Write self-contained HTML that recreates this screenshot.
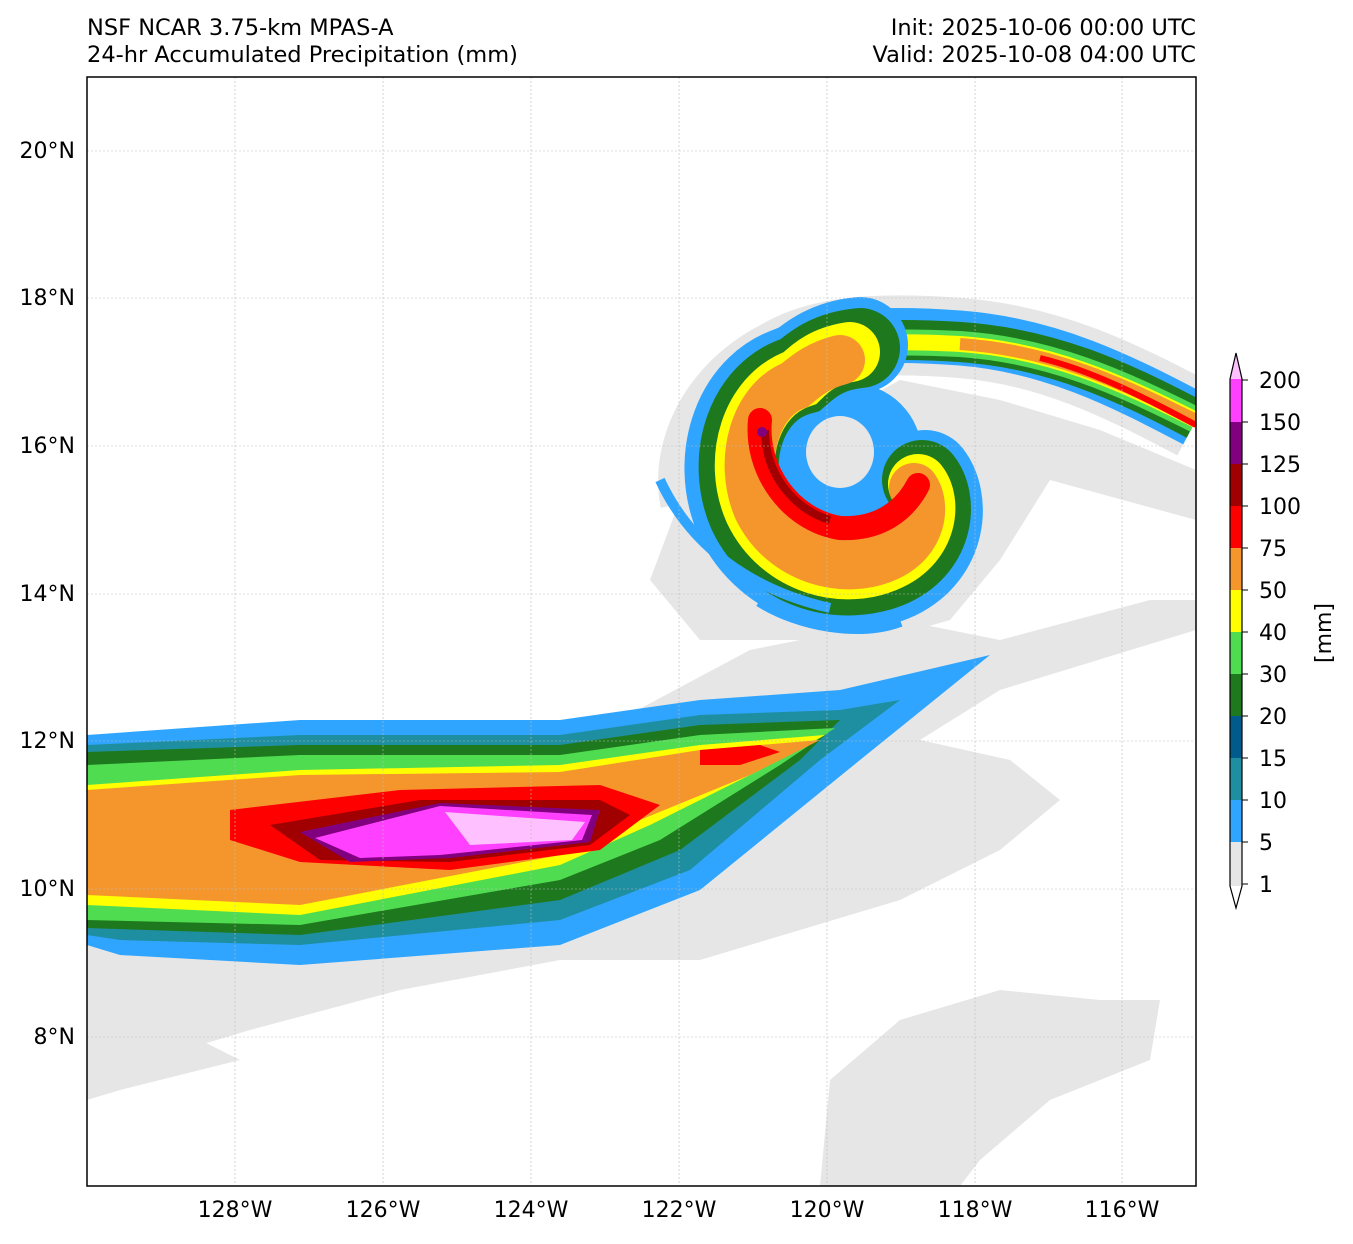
<!DOCTYPE html>
<html><head><meta charset="utf-8"><style>
body{margin:0;background:#fff}
svg text{font-family:"DejaVu Sans","Liberation Sans",sans-serif;fill:#000}
</style></head><body>
<svg width="1353" height="1239" xmlns="http://www.w3.org/2000/svg">
<defs><clipPath id="c"><rect x="87" y="77" width="1109" height="1109"/></clipPath></defs>
<rect width="1353" height="1239" fill="#fff"/>
<g clip-path="url(#c)">
<g fill="#e6e6e6">
<path d="M87,760 L200,735 L600,730 L750,650 L900,620 L1000,640 L1150,600 L1196,600 L1196,630 L1000,690 L920,740 L1010,760 L1060,800 L1000,850 L900,900 L800,930 L700,960 L560,960 L400,990 L250,1030 L150,1060 L87,1070 Z"/>
<path d="M820,1186 L830,1080 L900,1020 L1000,990 L1100,1000 L1160,1000 L1150,1060 L1050,1100 L980,1160 L960,1186 Z"/>
<path d="M87,1070 L200,1040 L240,1060 L120,1090 L87,1100 Z"/>
<path d="M900,380 L1000,400 L1100,430 L1196,470 L1196,520 L1050,480 L1000,560 L950,620 L880,640 L700,640 L650,580 L680,500 Z"/>
</g>
<path d="M1196,420 C1120,380 1050,345 960,338 C880,332 820,335 780,360 C720,390 690,450 700,500" fill="none" stroke="#e6e6e6" stroke-width="80"/>
<path d="M87,735 L300,720 L560,720 L700,700 L840,690 L990,655 L860,760 L700,890 L560,945 L300,965 L120,955 L87,945 Z" fill="#2fa5ff"/>
<path d="M87,745 L300,735 L560,735 L700,715 L840,710 L900,700 L820,760 L690,870 L560,920 L300,945 L120,940 L87,935 Z" fill="#1e8fa0"/>
<path d="M87,752 L300,745 L560,745 L700,725 L840,720 L800,760 L680,850 L560,900 L300,935 L87,928 Z" fill="#1e781e"/>
<path d="M87,765 L300,755 L560,755 L700,735 L835,728 L780,765 L660,840 L560,880 L300,925 L87,920 Z" fill="#50dc50"/>
<path d="M87,785 L300,770 L560,765 L700,745 L825,735 L760,770 L650,825 L560,865 L300,915 L87,905 Z" fill="#ffff00"/>
<path d="M87,790 L300,775 L560,772 L700,750 L820,740 L750,775 L640,820 L560,855 L300,905 L87,895 Z" fill="#f5962d"/>
<path d="M230,810 L400,790 L600,785 L660,805 L600,850 L450,870 L300,862 L230,840 Z" fill="#ff0000"/>
<path d="M700,750 L760,745 L780,752 L740,765 L700,765Z" fill="#ff0000"/>
<path d="M270,825 L420,800 L600,800 L630,815 L590,845 L450,862 L320,860 Z" fill="#a00000"/>
<path d="M300,832 L440,803 L600,810 L590,842 L450,858 L350,862 Z" fill="#800080"/>
<path d="M315,838 L440,806 L592,815 L582,840 L440,855 L360,858 Z" fill="#ff40ff"/>
<path d="M445,812 L585,822 L572,840 L470,845 Z" fill="#ffc0ff"/>
<path d="M1196,420 C1120,380 1050,345 960,338 C880,332 820,335 770,362" fill="none" stroke="#2fa5ff" stroke-width="55"/>
<path d="M1196,420 C1120,380 1050,348 960,342 C880,337 820,340 770,365" fill="none" stroke="#1e781e" stroke-width="40"/>
<path d="M1196,420 C1120,382 1050,350 960,344 C880,340 830,343 790,360" fill="none" stroke="#50dc50" stroke-width="26"/>
<path d="M1196,420 C1120,382 1050,350 960,344 C880,340 840,343 810,352" fill="none" stroke="#ffff00" stroke-width="16"/>
<path d="M1196,420 C1120,382 1050,350 960,344" fill="none" stroke="#f5962d" stroke-width="12"/>
<path d="M1196,425 C1140,395 1090,370 1040,358" fill="none" stroke="#ff0000" stroke-width="6"/>
<circle cx="850" cy="455" r="72" fill="#2fa5ff"/>
<ellipse cx="840" cy="452" rx="34" ry="36" fill="#e6e6e6"/>
<path d="M860,345 C830,348 815,360 800,372 C740,385 718,460 742,515 C772,578 845,595 895,572 C940,550 942,500 925,478" fill="none" stroke="#2fa5ff" stroke-width="96" stroke-linecap="round"/>
<path d="M860,348 C830,351 815,362 800,375 C745,390 725,460 748,513 C776,572 845,588 893,566 C935,546 938,500 922,480" fill="none" stroke="#1e781e" stroke-width="80" stroke-linecap="round"/>
<path d="M850,352 C825,356 812,366 800,378 C750,395 732,460 754,510 C780,565 845,582 890,560 C928,542 932,502 918,484" fill="none" stroke="#ffff00" stroke-width="60" stroke-linecap="round"/>
<path d="M840,360 C820,365 808,374 795,385 C755,400 738,460 758,508 C783,560 845,576 888,556 C922,540 926,505 914,488" fill="none" stroke="#f5962d" stroke-width="50" stroke-linecap="round"/>
<path d="M760,420 C755,470 790,520 840,528 C880,530 905,510 918,485" fill="none" stroke="#ff0000" stroke-width="24" stroke-linecap="round"/>
<path d="M765,430 C765,475 795,510 830,520" fill="none" stroke="#a00000" stroke-width="8"/>
<circle cx="762" cy="432" r="5" fill="#800080"/>
<path d="M660,480 C690,545 750,590 830,608" fill="none" stroke="#2fa5ff" stroke-width="10"/>
<path d="M760,600 C800,625 860,635 900,620" fill="none" stroke="#2fa5ff" stroke-width="14"/>
</g>
<g stroke="#bbb" stroke-width="0.6" stroke-dasharray="2,2">
<line x1="235" y1="77" x2="235" y2="1186"/><line x1="383" y1="77" x2="383" y2="1186"/><line x1="531" y1="77" x2="531" y2="1186"/><line x1="679" y1="77" x2="679" y2="1186"/><line x1="827" y1="77" x2="827" y2="1186"/><line x1="975" y1="77" x2="975" y2="1186"/><line x1="1122" y1="77" x2="1122" y2="1186"/>
<line x1="87" y1="151" x2="1196" y2="151"/><line x1="87" y1="298" x2="1196" y2="298"/><line x1="87" y1="446" x2="1196" y2="446"/><line x1="87" y1="594" x2="1196" y2="594"/><line x1="87" y1="741" x2="1196" y2="741"/><line x1="87" y1="889" x2="1196" y2="889"/><line x1="87" y1="1037" x2="1196" y2="1037"/>
</g>
<rect x="87" y="77" width="1109" height="1109" fill="none" stroke="#000" stroke-width="1.5"/>
<g font-size="22.5">
<text x="87" y="35">NSF NCAR 3.75-km MPAS-A</text>
<text x="87" y="62">24-hr Accumulated Precipitation (mm)</text>
<text x="1196" y="35" text-anchor="end">Init: 2025-10-06 00:00 UTC</text>
<text x="1196" y="62" text-anchor="end">Valid: 2025-10-08 04:00 UTC</text>
</g>
<g font-size="22" text-anchor="middle">
<text x="235" y="1217">128°W</text><text x="383" y="1217">126°W</text><text x="531" y="1217">124°W</text><text x="679" y="1217">122°W</text><text x="827" y="1217">120°W</text><text x="975" y="1217">118°W</text><text x="1122" y="1217">116°W</text>
</g>
<g font-size="22" text-anchor="end">
<text x="75" y="158">20°N</text><text x="75" y="305">18°N</text><text x="75" y="453">16°N</text><text x="75" y="601">14°N</text><text x="75" y="748">12°N</text><text x="75" y="896">10°N</text><text x="75" y="1044">8°N</text>
</g>
<g stroke="none">
<polygon points="1230,379 1236,353 1242,379" fill="#ffc0ff"/>
<rect x="1230" y="379" width="12" height="43" fill="#ff40ff"/>
<rect x="1230" y="422" width="12" height="42" fill="#800080"/>
<rect x="1230" y="464" width="12" height="42" fill="#a00000"/>
<rect x="1230" y="506" width="12" height="42" fill="#ff0000"/>
<rect x="1230" y="548" width="12" height="42" fill="#f5962d"/>
<rect x="1230" y="590" width="12" height="42" fill="#ffff00"/>
<rect x="1230" y="632" width="12" height="42" fill="#50dc50"/>
<rect x="1230" y="674" width="12" height="42" fill="#1e781e"/>
<rect x="1230" y="716" width="12" height="42" fill="#005a8c"/>
<rect x="1230" y="758" width="12" height="42" fill="#1e8fa0"/>
<rect x="1230" y="800" width="12" height="42" fill="#2fa5ff"/>
<rect x="1230" y="842" width="12" height="44" fill="#e6e6e6"/>
</g>
<polygon points="1230,379 1236,353 1242,379 1242,886 1236,908 1230,886" fill="none" stroke="#000" stroke-width="1.2"/>
<g stroke="#000" stroke-width="1">
<line x1="1242" y1="380" x2="1248" y2="380"/><line x1="1242" y1="422" x2="1248" y2="422"/><line x1="1242" y1="464" x2="1248" y2="464"/><line x1="1242" y1="506" x2="1248" y2="506"/><line x1="1242" y1="548" x2="1248" y2="548"/><line x1="1242" y1="590" x2="1248" y2="590"/><line x1="1242" y1="632" x2="1248" y2="632"/><line x1="1242" y1="674" x2="1248" y2="674"/><line x1="1242" y1="716" x2="1248" y2="716"/><line x1="1242" y1="758" x2="1248" y2="758"/><line x1="1242" y1="800" x2="1248" y2="800"/><line x1="1242" y1="842" x2="1248" y2="842"/><line x1="1242" y1="884" x2="1248" y2="884"/>
</g>
<g font-size="22">
<text x="1259" y="388">200</text><text x="1259" y="430">150</text><text x="1259" y="472">125</text><text x="1259" y="514">100</text><text x="1259" y="556">75</text><text x="1259" y="598">50</text><text x="1259" y="640">40</text><text x="1259" y="682">30</text><text x="1259" y="724">20</text><text x="1259" y="766">15</text><text x="1259" y="808">10</text><text x="1259" y="850">5</text><text x="1259" y="892">1</text>
</g>
<text x="1331" y="633" font-size="22" text-anchor="middle" transform="rotate(-90 1331 633)">[mm]</text>
</svg>
</body></html>
